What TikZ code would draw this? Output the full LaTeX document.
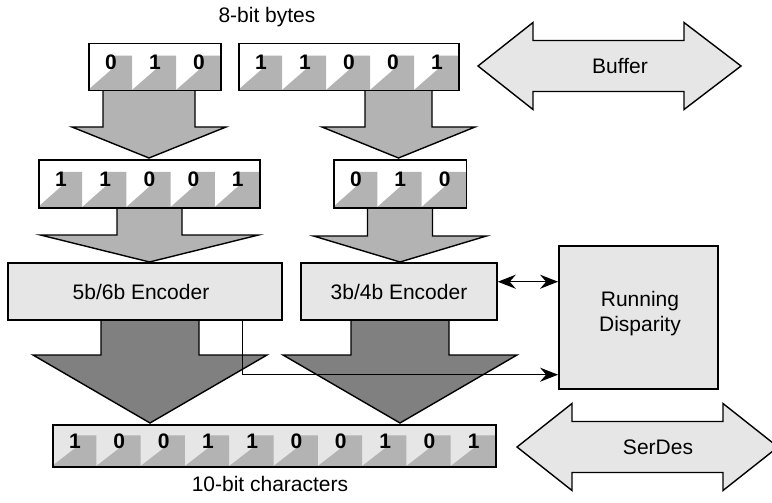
\documentclass[tikz,border=0pt]{standalone}
\usepackage{fontspec}
\setmainfont{Liberation Sans}
\usetikzlibrary{arrows.meta,calc}
\definecolor{cellgray}{HTML}{B3B3B3}
\definecolor{lightfill}{HTML}{E6E6E6}
\definecolor{darkfill}{HTML}{808080}

% #1 name, #2 x left, #3 y top, #4 cell width, #5 height, #6 background, #7 number of cells, #8 digits
\newcommand{\bitrow}[8]{%
  \fill[#6] (#2,#3) rectangle ({#2+#7*#4},{#3+#5});
  \foreach \dig [count=\i from 0] in {#8} {
    \fill[cellgray] ({#2+\i*#4},{#3+#5}) -- ++({0.55*#4},{-0.45*#5}) -- ++(0,{-0.28*#5})
      -- ({#2+(\i+1)*#4},{#3+0.27*#5}) -- ({#2+(\i+1)*#4},{#3+#5}) -- cycle;
    \node[digit] at ({#2+(\i+0.52)*#4},{#3+0.42*#5}) {\dig};
  }
  \node[box, minimum width={(#7*#4)*1pt}, minimum height={#5*1pt}, anchor=north west] (#1) at (#2,#3) {};
}

% #1 fill, #2 centre x, #3 top y, #4 half shaft, #5 head y, #6 half head, #7 tip y
\newcommand{\blockarrow}[7]{%
  \filldraw[blk, fill=#1] ({#2-#4},#3) -- ({#2-#4},#5) -- ({#2-#6},#5) -- (#2,#7)
    -- ({#2+#6},#5) -- ({#2+#4},#5) -- ({#2+#4},#3);
}

\begin{document}
\begin{tikzpicture}[x=1pt,y=-1pt,
  box/.style={draw, line width=1.5pt, inner sep=0pt},
  label/.style={font=\fontsize{21}{25}\selectfont, inner sep=0pt, align=center},
  digit/.style={font=\fontsize{21}{21}\selectfont\bfseries, inner sep=0pt},
  blk/.style={draw=black, line width=1.4pt, line join=miter},
  conn/.style={line width=1.5pt, -{Stealth[length=18pt,width=14pt,inset=6pt]}},
  conntwo/.style={line width=1.5pt, {Stealth[length=18pt,width=14pt,inset=6pt]}-{Stealth[length=18pt,width=14pt,inset=6pt]}},
  dbl/.style={draw=black, fill=lightfill, line width=1.4pt, line join=miter}]
\useasboundingbox (0,0) rectangle (772,503);
\clip (0,0) rectangle (772,503);

% block arrows
\blockarrow{cellgray}{149}{90}{46}{127}{77}{158}
\blockarrow{cellgray}{398.5}{90}{33.5}{127}{76.5}{158}
\blockarrow{cellgray}{149.5}{207}{32.5}{235}{109}{262}
\blockarrow{cellgray}{400}{208}{32.5}{236}{86.5}{262}
\blockarrow{darkfill}{150}{320}{49}{355}{117}{423}
\blockarrow{darkfill}{400}{320}{49}{355}{117}{423}

% bit rows
\bitrow{byteA}{88}{43}{44}{47}{white}{3}{0,1,0}
\bitrow{byteB}{238}{43}{44}{47}{white}{5}{1,1,0,0,1}
\bitrow{sixC}{38}{159}{44.2}{48}{white}{5}{1,1,0,0,1}
\bitrow{fourD}{333}{159}{44.3}{48}{white}{3}{0,1,0}
\bitrow{tenbit}{52}{424}{44.3}{42}{lightfill}{10}{1,0,0,1,1,0,0,1,0,1}

% encoders and running disparity
\node[box, fill=lightfill, minimum width=274pt, minimum height=57pt, label] (enc56) at (145,291.5) {};
\node[label] (enc56txt) at (141,291.5) {5b/6b Encoder};
\node[box, fill=lightfill, minimum width=196pt, minimum height=57pt, label] (enc34) at (399,291.5) {3b/4b Encoder};
\node[box, fill=lightfill, line width=1.8pt, minimum width=159pt, minimum height=143pt] (rd) at (638.5,317.5) {};
\node[label] (rdtxt) at (640,314) {Running\\Disparity};

% buffer and serdes double arrows
\filldraw[dbl] (478,66) -- (533,22.5) -- (533,40.5) -- (684,40.5) -- (684,22.5) -- (741,66)
  -- (684,109.5) -- (684,91.5) -- (533,91.5) -- (533,109.5) -- cycle;
\node[label] (buffer) at (620,66) {Buffer};
\filldraw[dbl] (517,447) -- (572,403.5) -- (572,421.5) -- (723,421.5) -- (723,403.5) -- (778,447)
  -- (723,490.5) -- (723,472.5) -- (572,472.5) -- (572,490.5) -- cycle;
\node[label] (serdes) at (658,447) {SerDes};

% connectors
\coordinate (e34port) at ($(enc34.north east)!0.333!(enc34.south east)$);
\draw[conntwo] (e34port) -- (e34port -| rd.west);
\coordinate (e56tap) at ($(enc56.south west)!0.854!(enc56.south east)$);
\coordinate (rdin) at ($(rd.north west)!0.895!(rd.south west)$);
\draw[conn] (e56tap) |- (rdin);

% captions
\node[label] (top) at (267,17) {8-bit bytes};
\node[label] (bottom) at (270,484) {10-bit characters};
\end{tikzpicture}
\end{document}
